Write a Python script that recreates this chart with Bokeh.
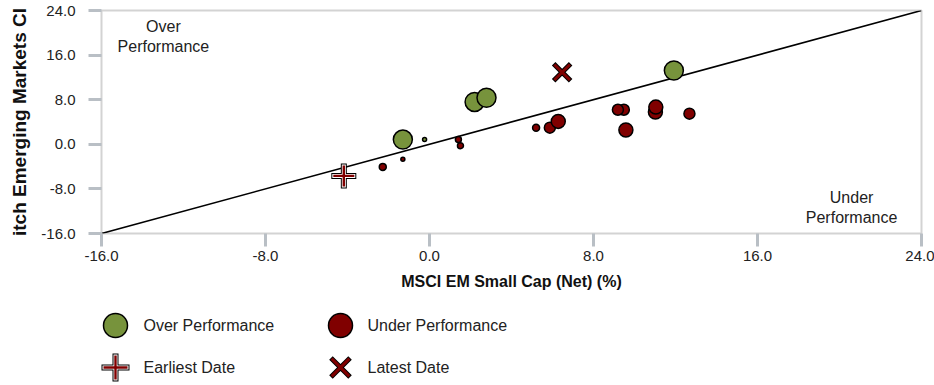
from bokeh.plotting import figure
from bokeh.models import (Range1d, LinearAxis, FixedTicker,
                          PrintfTickFormatter, Label, ColumnDataSource)
from bokeh.embed import file_html
from bokeh.resources import INLINE
from bokeh.core.properties import value

FONT = "Liberation Sans"
GREEN = "#77933c"
RED = "#800000"
TICK = "#b9bfc5"
TEXT = "#222222"

# ---------------- data ----------------
axis_min, axis_max = -16, 24
tick_values = [-16, -8, 0, 8, 16, 24]
x_title = "MSCI EM Small Cap (Net) (%)"
y_title = "itch Emerging Markets Cl"

# rolling-period returns: benchmark (x) vs fund (y)
bench = [-1.30, -0.24, -2.28, 1.41, 1.51, 5.20, 5.87, 6.28, 9.48, 9.19, 9.58,
         11.02, 11.04, 12.68, -1.30, 2.20, 2.78, 11.92]
fund = [-2.70, 0.84, -4.05, 0.84, -0.24, 2.98, 2.98, 4.11, 6.20, 6.20, 2.56,
        5.78, 6.67, 5.49, 0.84, 7.60, 8.35, 13.24]
# marker diameter (px) for each point
marker_px = [4, 4, 7, 6, 6, 7, 11, 14, 11, 11, 14, 14, 14, 11, 19, 19, 19, 19]

earliest_x, earliest_y = [-4.18], [-5.67]
latest_x, latest_y = [6.47], [12.93]

legend_labels = ["Over Performance", "Under Performance", "Earliest Date", "Latest Date"]

# ---------------- main plot ----------------
colors = [GREEN if f > b else RED for b, f in zip(bench, fund)]
src = ColumnDataSource(dict(x=bench, y=fund, s=marker_px, c=colors))

p = figure(width=934, height=300,
           min_border_left=101, min_border_right=13, min_border_top=10, min_border_bottom=67,
           x_range=Range1d(axis_min, axis_max), y_range=Range1d(axis_min, axis_max),
           x_axis_location=None, y_axis_location=None,
           toolbar_location=None, output_backend="svg")
p.grid.grid_line_color = None
p.outline_line_color = "#d3d3d3"
p.outline_line_width = 2
p.background_fill_color = "white"
p.border_fill_color = "white"


def make_axis(title, standoff, title_standoff, title_size):
    return LinearAxis(ticker=FixedTicker(ticks=tick_values),
                      formatter=PrintfTickFormatter(format="%.1f"),
                      major_tick_out=13, major_tick_in=0, minor_tick_out=0, minor_tick_in=0,
                      major_tick_line_color=TICK, major_tick_line_width=3,
                      axis_line_color=None,
                      major_label_standoff=standoff,
                      major_label_text_font=FONT, major_label_text_font_size="15px",
                      major_label_text_color=TEXT,
                      axis_label=title, axis_label_standoff=title_standoff,
                      axis_label_text_font=FONT, axis_label_text_font_style="bold",
                      axis_label_text_font_size=title_size,
                      axis_label_text_color="#111111")


p.add_layout(make_axis(x_title, 4, 9, "16px"), "below")
p.add_layout(make_axis(y_title, 13, 8, "19px"), "left")

# identity line
p.line(x=[axis_min, axis_max], y=[axis_min, axis_max], line_color="black", line_width=1.6)

p.scatter("x", "y", size="s", source=src, fill_color="c", line_color="black",
          line_width=1.5, marker="circle")

# earliest date (outlined plus)
p.scatter(earliest_x, earliest_y, marker="cross", size=25, line_color="black", line_width=6)
p.scatter(earliest_x, earliest_y, marker="cross", size=23, line_color="white", line_width=4)
p.scatter(earliest_x, earliest_y, marker="cross", size=21, line_color=RED, line_width=2.4)
# latest date (outlined x)
p.scatter(latest_x, latest_y, marker="x", size=24, line_color="black", line_width=5)
p.scatter(latest_x, latest_y, marker="x", size=22, line_color=RED, line_width=3)

for txt, lx, ly in [("Over", -12.98, 21.13), ("Performance", -12.98, 17.54),
                    ("Under", 20.59, -9.54), ("Performance", 20.59, -13.13)]:
    p.add_layout(Label(x=lx, y=ly, text=txt, text_align="center", text_baseline="middle",
                       text_font=FONT, text_font_size="16px", text_color=TEXT))

# ---------------- legend ----------------
lg = figure(width=934, height=84, x_range=Range1d(0, 934), y_range=Range1d(84, 0),
            toolbar_location=None, output_backend="svg", min_border=0,
            x_axis_location=None, y_axis_location=None)
lg.grid.grid_line_color = None
lg.outline_line_color = None

col_marker = [115, 340]
col_text = [143, 367]
row_y = [25, 67]

lg.scatter([col_marker[0]], [row_y[0]], marker="circle", size=24, fill_color=GREEN,
           line_color="black", line_width=1.5)
lg.scatter([col_marker[1]], [row_y[0]], marker="circle", size=24, fill_color=RED,
           line_color="black", line_width=1.5)
lg.scatter([col_marker[0]], [row_y[1]], marker="cross", size=28, line_color="black", line_width=6)
lg.scatter([col_marker[0]], [row_y[1]], marker="cross", size=26, line_color="white", line_width=4)
lg.scatter([col_marker[0]], [row_y[1]], marker="cross", size=24, line_color=RED, line_width=2.4)
lg.scatter([col_marker[1]], [row_y[1]], marker="x", size=27, line_color="black", line_width=5)
lg.scatter([col_marker[1]], [row_y[1]], marker="x", size=25, line_color=RED, line_width=3)

lg.text(x=[col_text[0], col_text[1], col_text[0], col_text[1]],
        y=[row_y[0], row_y[0], row_y[1], row_y[1]], text=legend_labels,
        text_font=value(FONT), text_font_size=value("16px"), text_baseline="middle",
        text_color=TEXT)

open("out.html", "w").write(file_html([p, lg], INLINE))
